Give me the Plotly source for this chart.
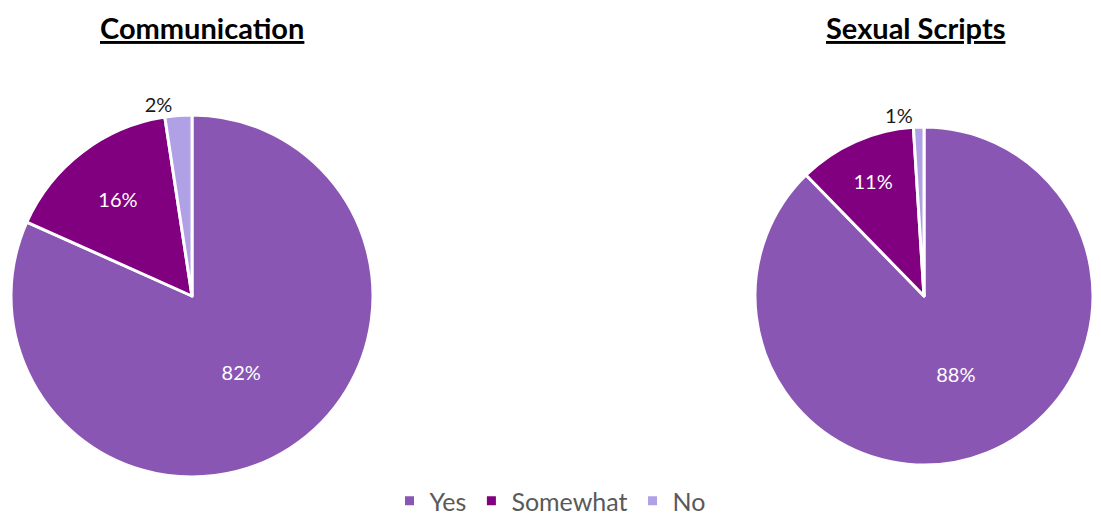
import plotly.graph_objects as go

categories = ["Yes", "Somewhat", "No"]
communication = [81.7, 15.9, 2.4]
sexual_scripts = [87.7, 11.3, 1.0]
titles = ["Communication", "Sexual Scripts"]
colors = ["#8A56B4", "#800080", "#B0A0E6"]

OFF = 8  # default page body margin
W, H = 1101 - 2 * OFF, 532 - 2 * OFF

def px(x):
    return (x - OFF) / W

def py(y):
    return 1 - (y - OFF) / H

def dom(x0, x1, y0, y1):
    return dict(x=[max(px(x0), 0), min(px(x1), 1)], y=[py(y1), py(y0)])

fig = go.Figure()
common = dict(
    labels=categories,
    sort=False,
    direction="clockwise",
    rotation=0,
    marker=dict(colors=colors, line=dict(color="white", width=3)),
    texttemplate="%{percent:.0%}",
    textposition=["inside", "inside", "outside"],
    insidetextorientation="horizontal",
    insidetextfont=dict(color="white", size=20, family="Lato"),
    outsidetextfont=dict(color="#1a1a1a", size=20, family="Lato"),
    hoverinfo="label+percent",
)
fig.add_trace(go.Pie(values=communication, domain=dom(11, 373, 115, 477),
                     name=titles[0], showlegend=True, **common))
fig.add_trace(go.Pie(values=sexual_scripts, domain=dom(755, 1093, 127, 465),
                     name=titles[1], showlegend=False, **common))

for t, cx in zip(titles, [202, 915]):
    fig.add_annotation(text="<b><u>" + t + "</u></b>", x=px(cx), y=py(28),
                       xref="paper", yref="paper", showarrow=False,
                       xanchor="center", yanchor="middle",
                       font=dict(size=29, color="black", family="Lato"))

fig.update_layout(
    width=W, height=H,
    margin=dict(l=0, r=0, t=0, b=0, autoexpand=False),
    paper_bgcolor="white", plot_bgcolor="white",
    font=dict(family="Lato"),
    legend=dict(orientation="h", x=px(550), xanchor="center", y=py(524), yanchor="bottom",
                font=dict(size=25, color="#595959", family="Lato"),
                itemwidth=30, traceorder="normal"),
)

fig.write_html("out.html")
